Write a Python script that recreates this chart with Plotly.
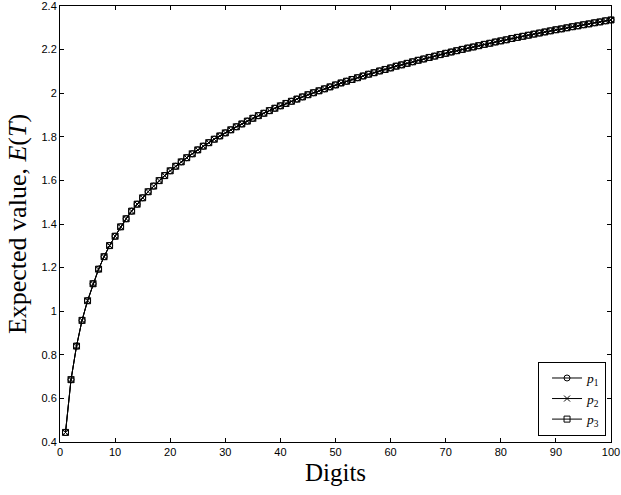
import plotly.graph_objects as go

digits = list(range(1, 101))

p1 = [0.444, 0.686, 0.840, 0.958, 1.048, 1.126, 1.193, 1.250, 1.301, 1.344,
      1.387, 1.424, 1.459, 1.491, 1.520, 1.548, 1.574, 1.599, 1.622, 1.644,
      1.665, 1.685, 1.704, 1.722, 1.740, 1.757, 1.773, 1.789, 1.804, 1.818,
      1.832, 1.846, 1.859, 1.872, 1.885, 1.897, 1.908, 1.920, 1.931, 1.942,
      1.953, 1.963, 1.973, 1.983, 1.993, 2.002, 2.011, 2.020, 2.029, 2.038,
      2.047, 2.055, 2.063, 2.071, 2.079, 2.087, 2.094, 2.102, 2.109, 2.116,
      2.124, 2.130, 2.137, 2.144, 2.151, 2.157, 2.164, 2.170, 2.177, 2.183,
      2.189, 2.195, 2.201, 2.207, 2.212, 2.218, 2.224, 2.229, 2.235, 2.240,
      2.245, 2.251, 2.256, 2.261, 2.266, 2.271, 2.276, 2.281, 2.286, 2.291,
      2.295, 2.300, 2.305, 2.309, 2.314, 2.318, 2.323, 2.327, 2.332, 2.336]
p2 = list(p1)
p3 = list(p1)

x_ticks = [0, 10, 20, 30, 40, 50, 60, 70, 80, 90, 100]
y_ticks = [0.4, 0.6, 0.8, 1.0, 1.2, 1.4, 1.6, 1.8, 2.0, 2.2, 2.4]
y_tick_labels = ["0.4", "0.6", "0.8", "1", "1.2", "1.4", "1.6", "1.8", "2", "2.2", "2.4"]

series = [
    ("<i>p</i><sub>1</sub>", p1, "circle-open"),
    ("<i>p</i><sub>2</sub>", p2, "x-thin-open"),
    ("<i>p</i><sub>3</sub>", p3, "square-open"),
]

fig = go.Figure()
for name, vals, sym in series:
    fig.add_trace(go.Scatter(
        x=digits, y=vals, name=name, mode="lines+markers",
        line=dict(color="black", width=1),
        marker=dict(symbol=sym, size=6, color="black", line=dict(color="black", width=1)),
        cliponaxis=False,
    ))

axis_common = dict(
    showline=True, linecolor="black", linewidth=1, mirror="ticks",
    ticks="inside", ticklen=4, tickcolor="black", showgrid=False, zeroline=False,
    automargin=False, ticklabeloverflow="allow",
    tickfont=dict(family="Liberation Sans, Arial", size=11, color="black"),
)

fig.update_layout(
    width=621, height=495,
    margin=dict(l=60, r=10, t=6, b=53, autoexpand=False),
    paper_bgcolor="white", plot_bgcolor="white",
    showlegend=True,
    legend=dict(
        x=0.991, y=0.0144, xanchor="right", yanchor="bottom",
        bgcolor="white", bordercolor="black", borderwidth=1,
        font=dict(family="Liberation Serif, Times New Roman", size=13.5, color="black"),
        tracegroupgap=0, indentation=8,
    ),
    xaxis=dict(
        range=[0, 100], tickvals=x_ticks,
        title=dict(text="Digits", font=dict(family="Liberation Serif, Times New Roman", size=25, color="black"), standoff=6),
        **axis_common,
    ),
    yaxis=dict(
        range=[0.4, 2.4], tickvals=y_ticks, ticktext=y_tick_labels,
        title=dict(text="Expected value, <i>E</i>(<i>T</i>)", font=dict(family="Liberation Serif, Times New Roman", size=26, color="black"), standoff=7),
        **axis_common,
    ),
)

fig.write_html(
    "out.html",
    config={"displayModeBar": False},
    post_script="document.body.style.margin='0';document.body.style.padding='0';",
)
